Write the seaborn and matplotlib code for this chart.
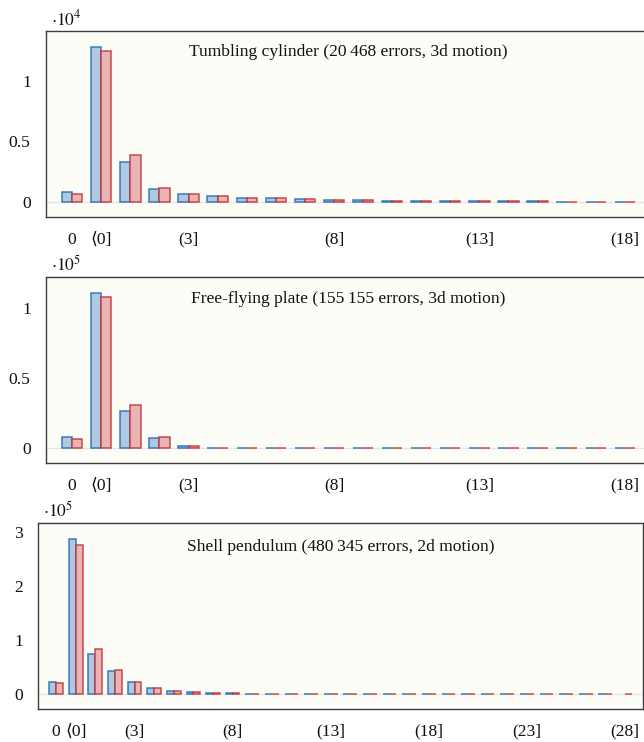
import pandas as pd
import matplotlib
matplotlib.use('Agg')
import matplotlib.pyplot as plt
import seaborn as sns

# bins: exact zero, "<0]" and then (k] buckets
bins_3d = ['0', '⟨0]'] + ['(%d]' % k for k in range(1, 19)]
bins_2d = ['0', '⟨0]'] + ['(%d]' % k for k in range(1, 29)]
labelled = ['0', '⟨0]', '(3]', '(8]', '(13]', '(18]', '(23]', '(28]']

# Tumbling cylinder (scale 1e4)
cyl_a = [800, 12800, 3300, 1100, 630, 470, 300, 300, 220, 190,
         150, 120, 100, 80, 60, 50, 40, 30, 25, 20]
cyl_b = [630, 12450, 3850, 1180, 630, 470, 300, 300, 220, 190,
         150, 120, 100, 80, 60, 50, 40, 30, 25, 20]

# Free-flying plate (scale 1e5)
plate_a = [7900, 111200, 26700, 7100, 1400, 500, 250, 150, 100, 80,
           60, 50, 40, 30, 25, 20, 15, 12, 10, 8]
plate_b = [6700, 107900, 30700, 7900, 1400, 450, 250, 150, 100, 80,
           60, 50, 40, 30, 25, 20, 15, 12, 10, 8]

# Shell pendulum (scale 1e5)
pend_a = [22800, 287700, 74100, 42600, 22200, 11700, 6800, 4300, 2500, 1800,
          1300, 1000, 800, 600, 500, 400, 350, 300, 250, 200,
          170, 150, 120, 100, 80, 70, 60, 50, 40, 0]
pend_b = [20400, 276500, 84600, 44400, 22200, 11100, 6800, 3700, 2500, 1800,
          1300, 1000, 800, 600, 500, 400, 350, 300, 250, 200,
          170, 150, 120, 100, 80, 70, 60, 50, 40, 30]

titles = ['Tumbling cylinder (20\u2009468 errors, 3d motion)',
          'Free-flying plate (155\u2009155 errors, 3d motion)',
          'Shell pendulum (480\u2009345 errors, 2d motion)']

sns.set_style('white')
plt.rcParams['font.family'] = ['Liberation Serif', 'DejaVu Serif', 'DejaVu Sans']
plt.rcParams['mathtext.fontset'] = 'stix'

fills = ['#b0c8e0', '#e8b4b4']
edges = [(0.16, 0.43, 0.71, 0.9), (0.76, 0.18, 0.20, 0.85)]
fs = 12.6

W, H = 644, 742
fig = plt.figure(figsize=(W / 100, H / 100), dpi=100)


def panel(box, bins, a, b, title, yticks, ylabels, power, ylim, xlim, ty):
    l, r, t, btm = box
    ax = fig.add_axes([l / W, 1 - btm / H, (r - l) / W, (btm - t) / H])
    n = len(bins)
    df = pd.DataFrame({'bin': bins * 2, 'count': a + b,
                       'series': ['a'] * n + ['b'] * n})
    ax.axhline(0, color='#e4e4e4', lw=1, zorder=0.5)
    sns.barplot(data=df, x='bin', y='count', hue='series', order=bins,
                width=0.7, errorbar=None, legend=False, saturation=1, ax=ax)
    for cont, fc, ec in zip(ax.containers, fills, edges):
        for p in cont:
            p.set_facecolor(fc)
            p.set_edgecolor(ec)
            p.set_linewidth(1.1)
            p.set_zorder(2)
            if p.get_height() == 0:
                p.set_visible(False)
    ax.set_facecolor('#fdfdf8')
    ax.set_xlim(*xlim)
    ax.set_ylim(*ylim)
    ax.set_xticks(range(n))
    ax.set_xticklabels([s if s in labelled else '' for s in bins])
    ax.set_yticks(yticks)
    ax.set_yticklabels(ylabels)
    ax.set_xlabel('')
    ax.set_ylabel('')
    ax.tick_params(axis='both', direction='out', length=6.5, width=0.8,
                   color='#c8c8c8', labelsize=fs, pad=4, labelcolor='#111111')
    ax.tick_params(axis='y', length=6, pad=5)
    for sp in ax.spines.values():
        sp.set_color('#3c3c3c')
        sp.set_linewidth(1.0)
    ax.text(0.5, ty, title, transform=ax.transAxes, ha='center', va='center',
            fontsize=fs, color='#111111')
    ax.text(0.008, 1.01, r'$\cdot10^{%d}$' % power, transform=ax.transAxes,
            ha='left', va='bottom', fontsize=fs, color='#111111')
    return ax


panel((46, 651, 31, 217), bins_3d, cyl_a, cyl_b, titles[0],
      [0, 5000, 10000], ['0', '0.5', '1'], 4, (-1240, 14100), (-0.9, 19.9), 0.887)
panel((46, 651, 277, 463), bins_3d, plate_a, plate_b, titles[1],
      [0, 50000, 100000], ['0', '0.5', '1'], 5, (-10500, 122400), (-0.9, 19.9), 0.882)
panel((38, 643, 523, 709), bins_2d, pend_a, pend_b, titles[2],
      [0, 100000, 200000, 300000], ['0', '1', '2', '3'], 5, (-27000, 317000),
      (-0.92, 29.92), 0.87)

fig.savefig('out.png', dpi=100, facecolor='white')
